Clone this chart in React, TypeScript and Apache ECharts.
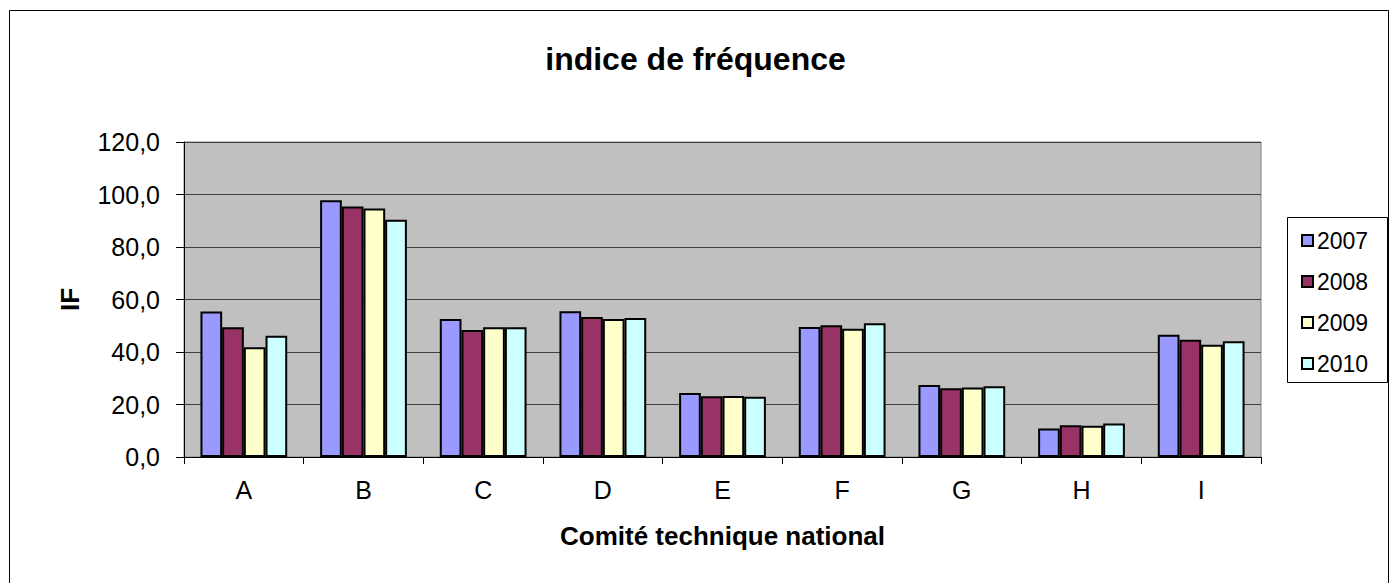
import React, { useEffect, useRef } from "react";
import * as echarts from "echarts";

const categories = ["A", "B", "C", "D", "E", "F", "G", "H", "I"];
const seriesNames = ["2007", "2008", "2009", "2010"];
const values2007 = [55.4, 97.8, 52.6, 55.5, 24.4, 49.5, 27.4, 10.9, 46.6];
const values2008 = [49.4, 95.4, 48.4, 53.3, 23.1, 50.2, 26.2, 12.1, 44.7];
const values2009 = [41.8, 94.7, 49.4, 52.6, 23.2, 48.9, 26.5, 11.9, 42.8];
const values2010 = [46.2, 90.4, 49.4, 53.0, 23.0, 51.0, 27.0, 12.8, 44.1];
const colors = ["#9999FF", "#993366", "#FFFFCC", "#CCFFFF"];

const FONT = "Liberation Sans, Arial, sans-serif";

export default function App() {
  const ref = useRef<HTMLDivElement>(null);
  useEffect(() => {
    if (!ref.current) return;
    const chart = echarts.init(ref.current, null, { renderer: "svg" });
    const allValues = [values2007, values2008, values2009, values2010];
    chart.setOption({
      animation: false,
      textStyle: { fontFamily: FONT, color: "#000" },
      title: {
        text: "indice de fréquence",
        left: "center",
        top: 38,
        textStyle: { fontFamily: FONT, fontSize: 32, fontWeight: "bold", color: "#000" },
      },
      graphic: [
        {
          type: "rect",
          shape: { x: 9.5, y: 10.5, width: 1379, height: 600 },
          style: { fill: "none", stroke: "#000", lineWidth: 1 },
          silent: true,
        },
        {
          type: "rect",
          shape: { x: 1287.5, y: 217.5, width: 100, height: 165 },
          style: { fill: "#fff", stroke: "#000", lineWidth: 1 },
          silent: true,
          z: -1,
        },
      ],
      legend: {
        orient: "vertical",
        left: 1296,
        top: 224,
        itemWidth: 11,
        itemHeight: 11,
        itemGap: 18,
        icon: "rect",
        data: seriesNames,
        textStyle: { fontFamily: FONT, fontSize: 23, color: "#000", padding: [0, 0, 0, -1] },
        itemStyle: { borderColor: "#000", borderWidth: 2 },
      },
      grid: {
        left: 184,
        right: 130,
        top: 142,
        bottom: 126,
        show: true,
        backgroundColor: "#C0C0C0",
        borderColor: "#808080",
        borderWidth: 1,
      },
      xAxis: {
        type: "category",
        data: categories,
        name: "Comité technique national",
        nameLocation: "middle",
        nameGap: 66,
        nameTextStyle: { fontFamily: FONT, fontSize: 26, fontWeight: "bold", color: "#000" },
        axisLine: { lineStyle: { color: "#000", width: 1 } },
        axisTick: { show: true, length: 7, lineStyle: { color: "#000" } },
        axisLabel: { fontFamily: FONT, fontSize: 25, color: "#000", margin: 20 },
      },
      yAxis: {
        type: "value",
        min: 0,
        max: 120,
        interval: 20,
        name: "IF",
        nameLocation: "middle",
        nameRotate: 90,
        nameGap: 101,
        nameTextStyle: { fontFamily: FONT, fontSize: 26, fontWeight: "bold", color: "#000" },
        axisLine: { show: true, lineStyle: { color: "#000", width: 1 } },
        axisTick: { show: true, length: 8, lineStyle: { color: "#000" } },
        axisLabel: {
          fontFamily: FONT,
          fontSize: 25,
          color: "#000",
          margin: 24,
          formatter: (v: number) => v.toFixed(1).replace(".", ","),
        },
        splitLine: { show: true, lineStyle: { color: "#404040", width: 1 } },
      },
      series: seriesNames.map((name, i) => ({
        name,
        type: "bar",
        data: allValues[i],
        barGap: "0%",
        barCategoryGap: "27.5%",
        itemStyle: { color: colors[i], borderColor: "#000", borderWidth: 2 },
      })),
    });
    return () => chart.dispose();
  }, []);
  return (
    <div
      ref={ref}
      style={{ position: "absolute", left: 0, top: 0, width: 1391, height: 583, background: "#fff" }}
    />
  );
}
